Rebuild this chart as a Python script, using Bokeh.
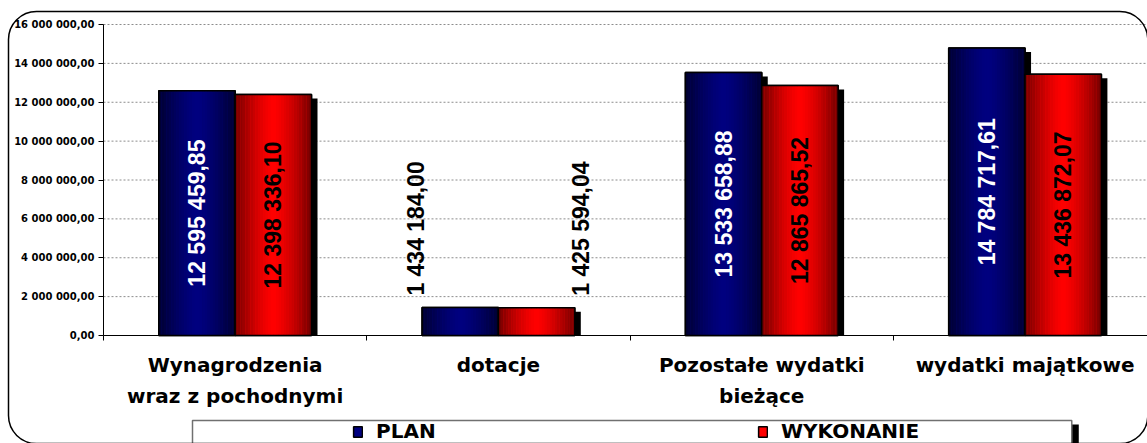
import math
from bokeh.plotting import figure
from bokeh.models import (ColumnDataSource, Range1d, FixedTicker, Legend, LegendItem, Label)
from bokeh.core.properties import value
from bokeh.embed import file_html
from bokeh.resources import INLINE

# ---------------- data ----------------
categories = ["Wynagrodzenia\nwraz z pochodnymi", "dotacje",
              "Pozostałe wydatki\nbieżące", "wydatki majątkowe"]
series_names = ["PLAN", "WYKONANIE"]
plan = [12595459.85, 1434184.00, 13533658.88, 14784717.61]
wykonanie = [12398336.10, 1425594.04, 12865865.52, 13436872.07]
y_ticks = [0, 2000000, 4000000, 6000000, 8000000, 10000000, 12000000, 14000000, 16000000]
y_tick_labels = ["0,00", "2 000 000,00", "4 000 000,00", "6 000 000,00", "8 000 000,00",
                 "10 000 000,00", "12 000 000,00", "14 000 000,00", "16 000 000,00"]

# ---------------- style / layout (pixels) ----------------
W, H = 1147, 443
FONT = "DejaVu Sans"
AX_LEFT, AX_TOP, AX_BOTTOM = 103, 24, 335   # plot area in page pixels
CAT_PX = 263.3                               # pixel width of one category
edge_colors = [(0, 0, 48), (112, 0, 0)]
center_colors = [(0, 0, 128), (255, 0, 0)]
label_colors = ["white", "black"]
bw = 0.29

y_max = y_ticks[-1]
px_x = 1 / CAT_PX
px_y = y_max / (AX_BOTTOM - AX_TOP)
x_end = (W - AX_LEFT) * px_x

def fmt(v):
    s = f"{v:,.2f}"
    return s.replace(",", " ").replace(".", ",")

p = figure(width=W, height=H, output_backend="svg", toolbar_location=None,
           x_range=Range1d(-AX_LEFT * px_x, x_end),
           y_range=Range1d(-(H - AX_BOTTOM) * px_y, y_max + AX_TOP * px_y),
           min_border=0, background_fill_color="white", border_fill_color="white")
p.outline_line_color = None
p.xgrid.grid_line_color = None
p.ygrid.grid_line_color = None

# grid lines (dotted) inside plot area
p.segment(x0=[0] * (len(y_ticks) - 1), x1=[x_end] * (len(y_ticks) - 1),
          y0=y_ticks[1:], y1=y_ticks[1:], line_color="#8c8c8c", line_dash="2 2", line_width=1)

# axes (fixed at the data origin)
xa = p.xaxis[0]
xa.fixed_location = 0
xa.bounds = (0, len(categories))
xa.ticker = FixedTicker(ticks=[i + 0.5 for i in range(len(categories))],
                        minor_ticks=list(range(len(categories) + 1)))
xa.major_label_overrides = {i + 0.5: c for i, c in enumerate(categories)}
xa.major_tick_out = 0
xa.major_tick_in = 0
xa.minor_tick_out = 5
xa.minor_tick_in = 0
xa.minor_tick_line_color = "black"
xa.axis_line_color = "black"
xa.major_label_text_font = FONT
xa.major_label_text_font_style = "bold"
xa.major_label_text_font_size = "20px"
xa.major_label_text_color = "black"
xa.major_label_text_line_height = 1.3
xa.major_label_standoff = 12

ya = p.yaxis[0]
ya.fixed_location = 0
ya.bounds = (0, y_max)
ya.ticker = FixedTicker(ticks=y_ticks, minor_ticks=[])
ya.major_label_overrides = {t: l for t, l in zip(y_ticks, y_tick_labels)}
ya.major_tick_out = 5
ya.major_tick_in = 0
ya.major_tick_line_color = "black"
ya.axis_line_color = "black"
ya.major_label_text_font = FONT
ya.major_label_text_font_style = "bold"
ya.major_label_text_font_size = "10px"
ya.major_label_text_color = "black"
ya.major_label_standoff = 4

# bars
series = [plan, wykonanie]
nstrip = 30
legend_items = []
for s, vals in enumerate(series):
    lefts = [i + 0.5 - bw + s * bw for i in range(len(vals))]
    rights = [l + bw for l in lefts]
    # shadow
    p.quad(left=[l + 6 * px_x for l in lefts], right=[r + 6 * px_x for r in rights],
           top=[v - 4 * px_y for v in vals], bottom=[0] * len(vals),
           fill_color="black", line_color=None)
    base = p.quad(left=lefts, right=rights, top=vals, bottom=[0] * len(vals),
                  fill_color="#%02x%02x%02x" % center_colors[s], line_color="black", line_width=1.5)
    legend_items.append(LegendItem(label=series_names[s], renderers=[base]))
    sl, sr, st, sb, sc = [], [], [], [], []
    for k in range(nstrip):
        t = (k + 0.5) / nstrip
        f = 1 - abs(2 * t - 1) ** 1.4
        col = tuple(int(round(e + (c - e) * f)) for e, c in zip(edge_colors[s], center_colors[s]))
        for i, v in enumerate(vals):
            sl.append(lefts[i] + bw * k / nstrip)
            sr.append(lefts[i] + bw * (k + 1) / nstrip + 0.0005)
            st.append(v)
            sb.append(0)
            sc.append("#%02x%02x%02x" % col)
    p.quad(left=sl, right=sr, top=st, bottom=sb, fill_color=sc, line_color=None)
    p.quad(left=lefts, right=rights, top=vals, bottom=[0] * len(vals),
           fill_alpha=0, line_color="black", line_width=1.5)

    # value labels
    centers = [l + bw / 2 for l in lefts]
    inside = [v > y_max / 2 for v in vals]
    src_in = ColumnDataSource(dict(x=[c for c, ok in zip(centers, inside) if ok],
                                   y=[v / 2 for v, ok in zip(vals, inside) if ok],
                                   t=[fmt(v) for v, ok in zip(vals, inside) if ok]))
    p.text(x="x", y="y", text="t", source=src_in, angle=math.pi / 2,
           text_align="center", text_baseline="middle", text_color=label_colors[s],
           text_font=value("Liberation Sans"), text_font_style="bold", text_font_size="23px")
    src_out = ColumnDataSource(dict(x=[c for c, ok in zip(centers, inside) if not ok],
                                    y=[v for v, ok in zip(vals, inside) if not ok],
                                    t=[fmt(v) for v, ok in zip(vals, inside) if not ok]))
    p.text(x="x", y="y", text="t", source=src_out, angle=math.pi / 2,
           x_offset=(-44 if s == 0 else 44), y_offset=-12,
           text_align="left", text_baseline="middle", text_color="black",
           text_font=value("Liberation Sans"), text_font_style="bold", text_font_size="23px")

# boxes drawn as padded empty labels (screen units: from bottom-left, y up)
def box(x, y_top, w, h, **kw):
    return Label(x=x, y=H - y_top, x_units="screen", y_units="screen", text=" ",
                 text_font_size="1px", text_align="left", text_baseline="top",
                 padding=(0, w, h, 0), **kw)

p.add_layout(box(1071, 424, 7, 25, background_fill_color="black", border_line_color=None))
p.add_layout(box(192, 420, 879, 30, background_fill_color=None,
                 border_line_color="#707070", border_line_width=1.5))
p.add_layout(box(8, 11, 1139, 431, background_fill_color=None, border_line_color="black",
                 border_line_width=1.5, border_radius=28))

# legend
legend = Legend(items=legend_items, orientation="horizontal", location=(352, 0),
                padding=0, margin=0, spacing=0, label_width=381, label_standoff=13,
                glyph_width=11, glyph_height=13,
                border_line_color=None, background_fill_alpha=0,
                label_text_font=FONT, label_text_font_style="bold", label_text_font_size="20px",
                label_text_color="black")
p.add_layout(legend, "center")

open("out.html", "w").write(file_html(p, INLINE))
